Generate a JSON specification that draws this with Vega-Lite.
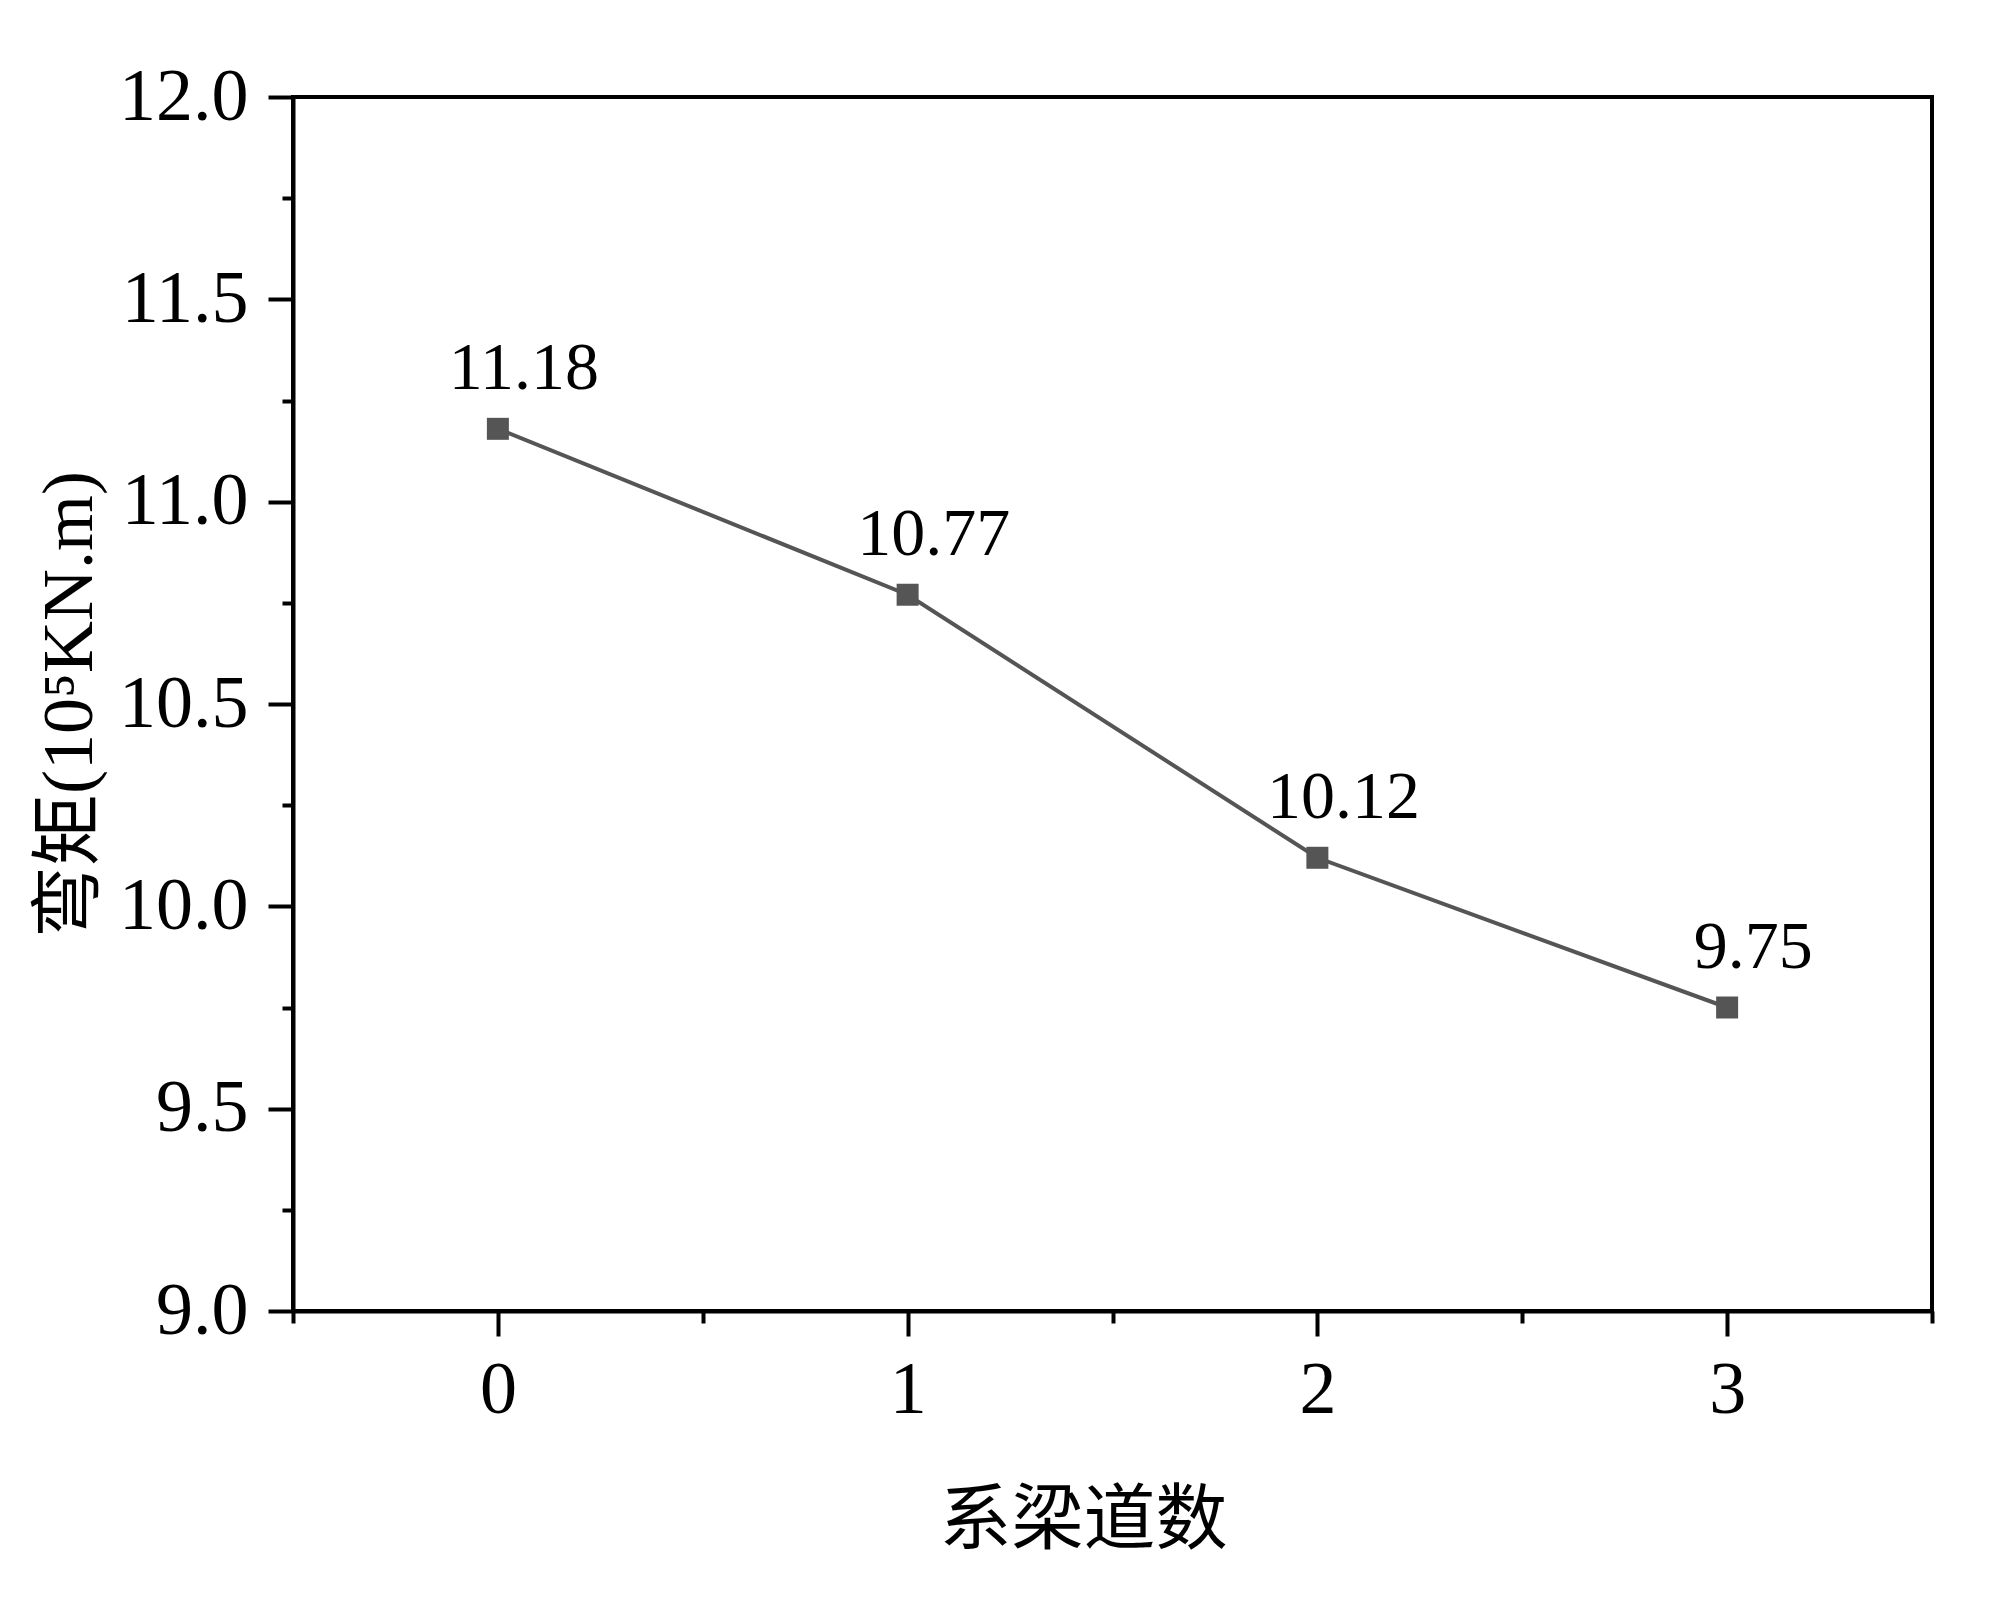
{
  "$schema": "https://vega.github.io/schema/vega-lite/v6.json",
  "width": 1639,
  "height": 1214,
  "autosize": {"type": "none"},
  "padding": {"left": 293, "top": 97, "right": 68, "bottom": 297},
  "background": "white",
  "config": {
    "view": {"stroke": "black", "strokeWidth": 4},
    "axis": {
      "domainColor": "black", "domainWidth": 4, "tickColor": "black", "tickWidth": 4, "grid": false,
      "labelFont": "Liberation Serif", "labelFontSize": 74, "labelColor": "black",
      "titleFont": "'Liberation Serif', 'Noto Sans CJK SC'", "titleFontSize": 72, "titleFontWeight": "normal", "titleColor": "black"
    }
  },
  "data": {"values": [
    {"n": 0, "m": 11.18},
    {"n": 1, "m": 10.77},
    {"n": 2, "m": 10.12},
    {"n": 3, "m": 9.75}
  ]},
  "layer": [
    {
      "mark": {"type": "line", "color": "#555555", "strokeWidth": 4},
      "encoding": {
        "x": {"field": "n", "type": "quantitative",
          "scale": {"domain": [-0.5, 3.5], "nice": false, "zero": false},
          "axis": {"orient": "bottom", "values": [0, 1, 2, 3], "format": "d", "tickSize": 25, "labelPadding": 18, "title": "系梁道数", "titlePadding": 58, "titleX": 790}},
        "y": {"field": "m", "type": "quantitative",
          "scale": {"domain": [9, 12], "nice": false, "zero": false},
          "axis": {"orient": "left", "values": [9, 9.5, 10, 10.5, 11, 11.5, 12], "format": ".1f", "tickSize": 25, "labelPadding": 20, "title": "弯矩(10⁵KN.m)", "titlePadding": 12}}
      }
    },
    {
      "mark": {"type": "square", "size": 484, "color": "#555555", "opacity": 1},
      "encoding": {
        "x": {"field": "n", "type": "quantitative",
          "axis": {"orient": "bottom", "values": [-0.5, 0.5, 1.5, 2.5, 3.5], "tickSize": 12, "labels": false, "title": null, "domain": false}},
        "y": {"field": "m", "type": "quantitative",
          "axis": {"orient": "left", "values": [9.25, 9.75, 10.25, 10.75, 11.25, 11.75], "tickSize": 11, "labels": false, "title": null, "domain": false}}
      }
    },
    {
      "mark": {"type": "text", "font": "Liberation Serif", "fontSize": 68, "dx": 26, "dy": -40, "baseline": "alphabetic", "align": "center", "color": "black"},
      "encoding": {
        "x": {"field": "n", "type": "quantitative", "axis": null},
        "y": {"field": "m", "type": "quantitative", "axis": null},
        "text": {"field": "m", "type": "quantitative", "format": ".2f"}
      }
    }
  ],
  "resolve": {"axis": {"x": "independent", "y": "independent"}}
}
